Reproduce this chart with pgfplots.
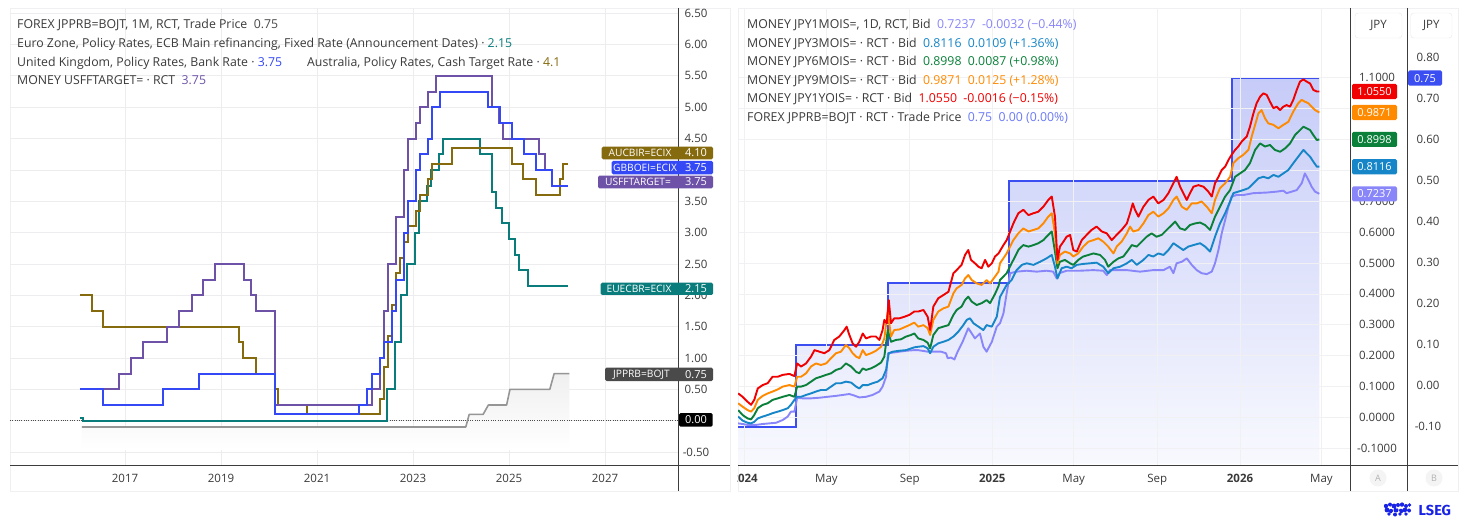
\documentclass[border=0pt]{standalone}
\usepackage{pgfplots}
\pgfplotsset{compat=1.18}
\usepackage{fontspec}
\setmainfont{Open Sans}
\newfontfamily\lsegfont{Fira Sans}
\definecolor{au}{RGB}{134,106,14}
\definecolor{uk}{RGB}{52,72,245}
\definecolor{us}{RGB}{110,82,168}
\definecolor{eu}{RGB}{10,124,124}
\definecolor{jpl}{RGB}{150,150,150}
\definecolor{jpbox}{RGB}{74,74,74}
\definecolor{txt}{RGB}{58,58,58}
\definecolor{gridc}{RGB}{237,237,240}
\definecolor{axc}{RGB}{60,60,60}
\definecolor{panelc}{RGB}{240,240,242}
\definecolor{ry}{RGB}{240,0,0}
\definecolor{orr}{RGB}{255,138,0}
\definecolor{grn}{RGB}{10,128,58}
\definecolor{bl}{RGB}{22,134,200}
\definecolor{lv}{RGB}{137,134,250}
\definecolor{st}{RGB}{58,78,242}
\definecolor{fillT}{RGB}{198,204,248}
\definecolor{fillB}{RGB}{248,249,254}
\definecolor{lsegb}{RGB}{25,35,230}
\pgfplotsset{yrtrafo/.style={x coord trafo/.code={\pgfmathparse{##1-2024}}, x coord inv trafo/.code={\pgfmathparse{##1+2024}}}}
\newcommand{\tickfont}{\fontsize{11.5}{13}\selectfont}
\newcommand{\legfont}{\fontsize{12.3}{14}\selectfont}
\newcommand{\boxfont}{\fontsize{11}{13}\selectfont}
\newcommand{\namefont}{\fontsize{10.2}{12}\selectfont}
\begin{document}
\begin{tikzpicture}[x=1pt,y=1pt]
\useasboundingbox (0,0) rectangle (1467,-529);
\fill[white] (0,0) rectangle (1467,-529);
\draw[panelc] (10,-8) rectangle (730,-491);
\draw[panelc] (738,-8) rectangle (1458,-491);
% ================= LEFT PANEL =================
\begin{axis}[
  at={(10pt,-465pt)}, anchor=south west, scale only axis,
  width=668pt, height=457pt,
  xmin=2014.604, xmax=2028.521, ymin=-0.7065, ymax=6.5821,
  axis line style={draw=none}, tick style={draw=none},
  xtick={2017,2019,2021,2023,2025,2027},
  xticklabels={2017,2019,2021,2023,2025,2027},
  ytick={-0.5,0,0.5,1,1.5,2,2.5,3,3.5,4,4.5,5,5.5,6,6.5},
  yticklabels={-0.50,{},0.50,1.00,1.50,2.00,2.50,3.00,3.50,{},4.50,5.00,5.50,6.00,6.50},
  yticklabel pos=right,
  xmajorgrids, ymajorgrids, grid style={gridc, line width=0.8pt},
  ticklabel style={font=\tickfont, text=txt},
  xticklabel style={anchor=base, inner sep=0pt, yshift=-17pt},
  yticklabel style={anchor=center, inner sep=0pt, xshift=18pt},
]
\addplot[draw=none, top color=gray!12, bottom color=white] coordinates {(2016.10,-0.47) (2016.10,-0.10) (2024.10,-0.10) (2024.17,0.10) (2024.46,0.10) (2024.57,0.25) (2024.95,0.25) (2025.02,0.50) (2025.85,0.50) (2025.94,0.75) (2026.26,0.75) (2026.26,-0.47)} -- cycle;
\addplot[black!70, dash pattern=on 1pt off 1.3pt, line width=0.8pt] coordinates {(2014.604,0) (2028.521,0)};
\addplot[jpl, line width=1.6pt, line join=round] coordinates {(2016.10,-0.10) (2024.10,-0.10) (2024.17,0.10) (2024.46,0.10) (2024.57,0.25) (2024.95,0.25) (2025.02,0.50) (2025.85,0.50) (2025.94,0.75) (2026.26,0.75)};
\addplot[const plot, eu, line width=2pt] coordinates {(2016.06,0.05) (2016.13,0.00) (2022.46,0.50) (2022.63,1.25) (2022.76,2.00) (2022.88,2.50) (2023.04,3.00) (2023.13,3.50) (2023.29,3.75) (2023.38,4.00) (2023.54,4.25) (2023.63,4.50) (2024.40,4.25) (2024.64,3.65) (2024.72,3.40) (2024.86,3.15) (2024.99,2.90) (2025.13,2.65) (2025.21,2.40) (2025.39,2.15) (2026.22,2.15)};
\addplot[const plot, au, line width=2pt] coordinates {(2016.06,2.00) (2016.31,1.75) (2016.54,1.50) (2019.38,1.25) (2019.46,1.00) (2019.73,0.75) (2020.13,0.50) (2020.19,0.25) (2020.79,0.10) (2022.31,0.35) (2022.40,0.85) (2022.48,1.35) (2022.56,1.85) (2022.65,2.35) (2022.73,2.60) (2022.81,2.85) (2022.90,3.10) (2023.06,3.35) (2023.15,3.60) (2023.31,3.85) (2023.40,4.10) (2023.81,4.35) (2025.06,4.10) (2025.30,3.85) (2025.56,3.60) (2026.06,3.85) (2026.13,4.10) (2026.22,4.10)};
\addplot[const plot, us, line width=2pt] coordinates {(2016.06,0.50) (2016.88,0.75) (2017.13,1.00) (2017.37,1.25) (2017.88,1.50) (2018.13,1.75) (2018.39,2.00) (2018.63,2.25) (2018.88,2.50) (2019.47,2.25) (2019.63,2.00) (2019.73,1.75) (2020.13,0.25) (2022.14,0.50) (2022.31,1.00) (2022.40,1.75) (2022.48,2.50) (2022.65,3.25) (2022.81,4.00) (2022.90,4.50) (2023.06,4.75) (2023.15,5.00) (2023.31,5.25) (2023.48,5.50) (2024.65,5.00) (2024.80,4.75) (2024.88,4.50) (2025.63,4.25) (2025.74,4.00) (2025.90,3.75) (2026.22,3.75)};
\addplot[const plot, uk, line width=2pt] coordinates {(2016.06,0.50) (2016.54,0.25) (2017.80,0.50) (2018.55,0.75) (2020.13,0.10) (2021.88,0.25) (2022.05,0.50) (2022.14,0.75) (2022.31,1.00) (2022.40,1.25) (2022.56,1.75) (2022.65,2.25) (2022.81,3.00) (2022.90,3.50) (2023.06,4.00) (2023.15,4.25) (2023.31,4.50) (2023.40,5.00) (2023.56,5.25) (2024.57,5.00) (2024.81,4.75) (2025.06,4.50) (2025.32,4.25) (2025.56,4.00) (2025.90,3.75) (2026.22,3.75)};
\end{axis}
\draw[axc, line width=0.9pt] (678,-8) -- (678,-491);
\draw[axc, line width=0.9pt] (10,-465) -- (730,-465);
% left legend
\begin{scope}[every node/.style={anchor=base west, inner sep=0pt, font=\legfont, text=txt}]
\node at (17,-29) {FOREX JPPRB=BOJT, 1M, RCT, Trade Price\ \ \textcolor{jpbox}{0.75}};
\node at (17,-47.5) {Euro Zone, Policy Rates, ECB Main refinancing, Fixed Rate (Announcement Dates) · \textcolor{eu}{2.15}};
\node at (17,-66.5) {United Kingdom, Policy Rates, Bank Rate · \textcolor{uk}{3.75}};
\node at (307,-66.5) {Australia, Policy Rates, Cash Target Rate · \textcolor{au}{4.1}};
\node at (17,-85) {MONEY USFFTARGET= · RCT\ \ \textcolor{us}{3.75}};
\end{scope}
% left value boxes
\begin{scope}[every node/.style={inner sep=0pt, text=white, font=\boxfont}]
\fill[au, rounded corners=1.5pt] (601.7,-146.7) rectangle (713,-159.3);
\node[font=\namefont] at (640,-153) {AUCBIR=ECIX}; \node at (696,-153) {4.10};
\fill[uk, rounded corners=1.5pt] (611.7,-161) rectangle (713,-174.3);
\node[font=\namefont] at (645,-167.7) {GBBOEI=ECIX}; \node at (696,-167.7) {3.75};
\fill[us, rounded corners=1.5pt] (598,-175.7) rectangle (713,-188.3);
\node[font=\namefont] at (638,-182) {USFFTARGET=}; \node at (696,-182) {3.75};
\fill[eu, rounded corners=1.5pt] (600.7,-282.7) rectangle (713,-295);
\node[font=\namefont] at (639,-288.8) {EUECBR=ECIX}; \node at (696,-288.8) {2.15};
\fill[jpbox, rounded corners=1.5pt] (605,-367.7) rectangle (713,-381);
\node[font=\namefont] at (641.5,-374.3) {JPPRB=BOJT}; \node at (696,-374.3) {0.75};
\fill[black, rounded corners=1.5pt] (679,-413) rectangle (712.7,-426.7);
\node at (696,-420) {0.00};
\end{scope}
% ================= RIGHT PANEL =================
\begin{axis}[
  yrtrafo,
  at={(738pt,-465pt)}, anchor=south west, scale only axis,
  width=612pt, height=457pt,
  xmin=2023.9734, xmax=2026.4441, ymin=-0.19366, ymax=0.92098,
  axis line style={draw=none}, tick style={draw=none},
  xtick=\empty,
  ytick={-0.1,0,0.1,0.2,0.3,0.4,0.5,0.6,0.7,0.8},
  yticklabels={-0.10,0.00,0.10,0.20,0.30,0.40,0.50,0.60,0.70,0.80},
  yticklabel pos=right,
  ticklabel style={font=\tickfont, text=txt},
  yticklabel style={anchor=center, inner sep=0pt, xshift=78pt},
]
\addplot[draw=none, top color=fillT, bottom color=fillB] coordinates {(2023.9734,-0.19) (2023.9734,-0.10) (2024.2075,-0.10) (2024.2075,0.10) (2024.580,0.10) (2024.580,0.25) (2025.067,0.25) (2025.067,0.50) (2025.969,0.50) (2025.969,0.75) (2026.320,0.75) (2026.320,-0.19)} -- cycle;
\addplot[st, line width=2pt] coordinates {(2023.9734,-0.10) (2024.2075,-0.10) (2024.2075,0.10) (2024.580,0.10) (2024.580,0.25) (2025.067,0.25) (2025.067,0.50) (2025.969,0.50) (2025.969,0.75) (2026.320,0.75)};
\end{axis}
\begin{axis}[
  yrtrafo,
  at={(738pt,-465pt)}, anchor=south west, scale only axis,
  width=612pt, height=457pt,
  xmin=2023.9734, xmax=2026.4441, ymin=-0.15372, ymax=1.32524,
  axis line style={draw=none}, tick style={draw=none},
  xtick={2024,2024.3306,2024.6667,2025,2025.3288,2025.6658,2026,2026.3288},
  xticklabels={\textbf{2024},May,Sep,\textbf{2025},May,Sep,\textbf{2026},May},
  ytick={-0.1,0,0.1,0.2,0.3,0.4,0.5,0.6,0.7,0.8,0.9,1.0,1.1},
  yticklabels={-0.1000,0.0000,0.1000,0.2000,0.3000,0.4000,0.5000,0.6000,0.7000,{},{},{},1.1000},
  yticklabel pos=right,
  xmajorgrids, ymajorgrids, grid style={gridc!80, line width=0.8pt},
  ticklabel style={font=\tickfont, text=txt},
  xticklabel style={anchor=base, inner sep=0pt, yshift=-17pt},
  yticklabel style={anchor=center, inner sep=0pt, xshift=27pt},
  every axis plot/.append style={line width=1.9pt, line join=round},
]
% 1M
\addplot[lv] coordinates {(2023.974,-0.019) (2023.992,-0.021) (2024.012,-0.024) (2024.046,-0.024) (2024.073,-0.021) (2024.100,-0.019) (2024.127,-0.017) (2024.154,-0.008) (2024.174,0.003) (2024.187,0.019) (2024.201,0.019) (2024.212,0.064) (2024.234,0.062) (2024.268,0.062) (2024.302,0.064) (2024.335,0.067) (2024.369,0.070) (2024.396,0.073) (2024.423,0.076) (2024.443,0.071) (2024.463,0.065) (2024.490,0.067) (2024.517,0.073) (2024.544,0.084) (2024.557,0.100) (2024.571,0.132) (2024.579,0.208) (2024.598,0.210) (2024.625,0.213) (2024.652,0.216) (2024.685,0.218) (2024.701,0.218) (2024.739,0.213) (2024.766,0.213) (2024.793,0.213) (2024.813,0.208) (2024.820,0.192) (2024.833,0.194) (2024.847,0.188) (2024.860,0.213) (2024.880,0.245) (2024.903,0.289) (2024.917,0.272) (2024.930,0.256) (2024.950,0.272) (2024.964,0.229) (2024.977,0.213) (2024.998,0.245) (2025.018,0.294) (2025.031,0.305) (2025.045,0.337) (2025.058,0.402) (2025.072,0.467) (2025.098,0.472) (2025.139,0.475) (2025.179,0.472) (2025.219,0.475) (2025.246,0.472) (2025.260,0.450) (2025.271,0.467) (2025.300,0.475) (2025.354,0.475) (2025.408,0.477) (2025.448,0.475) (2025.462,0.461) (2025.475,0.477) (2025.543,0.477) (2025.596,0.472) (2025.650,0.477) (2025.691,0.477) (2025.717,0.488) (2025.731,0.467) (2025.744,0.499) (2025.765,0.504) (2025.785,0.515) (2025.805,0.494) (2025.825,0.477) (2025.845,0.467) (2025.866,0.464) (2025.886,0.472) (2025.899,0.499) (2025.913,0.542) (2025.926,0.596) (2025.940,0.639) (2025.953,0.682) (2025.966,0.715) (2025.986,0.720) (2026.013,0.720) (2026.054,0.726) (2026.108,0.728) (2026.148,0.731) (2026.175,0.734) (2026.188,0.726) (2026.209,0.731) (2026.229,0.736) (2026.249,0.758) (2026.262,0.790) (2026.276,0.769) (2026.289,0.747) (2026.303,0.731) (2026.320,0.724)};
% 3M
\addplot[bl] coordinates {(2023.974,0.003) (2023.992,-0.010) (2024.012,-0.017) (2024.026,-0.019) (2024.039,-0.014) (2024.053,-0.003) (2024.073,0.003) (2024.093,0.008) (2024.113,0.014) (2024.134,0.019) (2024.154,0.024) (2024.174,0.030) (2024.187,0.041) (2024.201,0.057) (2024.212,0.067) (2024.228,0.067) (2024.248,0.073) (2024.268,0.078) (2024.288,0.084) (2024.308,0.089) (2024.329,0.089) (2024.349,0.100) (2024.369,0.111) (2024.389,0.111) (2024.409,0.116) (2024.430,0.113) (2024.450,0.100) (2024.463,0.094) (2024.477,0.105) (2024.497,0.105) (2024.517,0.111) (2024.537,0.116) (2024.557,0.127) (2024.571,0.154) (2024.582,0.208) (2024.598,0.213) (2024.625,0.216) (2024.652,0.218) (2024.685,0.227) (2024.701,0.229) (2024.722,0.231) (2024.739,0.224) (2024.749,0.208) (2024.762,0.229) (2024.782,0.240) (2024.802,0.245) (2024.823,0.251) (2024.843,0.262) (2024.863,0.278) (2024.883,0.299) (2024.897,0.316) (2024.910,0.321) (2024.924,0.305) (2024.944,0.294) (2024.964,0.283) (2024.977,0.299) (2024.998,0.294) (2025.018,0.326) (2025.031,0.390) (2025.058,0.429) (2025.078,0.445) (2025.098,0.477) (2025.119,0.494) (2025.139,0.499) (2025.166,0.494) (2025.193,0.504) (2025.219,0.515) (2025.240,0.526) (2025.253,0.488) (2025.263,0.450) (2025.280,0.483) (2025.300,0.488) (2025.320,0.483) (2025.341,0.494) (2025.367,0.497) (2025.394,0.499) (2025.421,0.501) (2025.448,0.488) (2025.468,0.467) (2025.489,0.483) (2025.516,0.488) (2025.543,0.499) (2025.563,0.510) (2025.583,0.494) (2025.610,0.510) (2025.630,0.526) (2025.650,0.521) (2025.670,0.531) (2025.691,0.526) (2025.711,0.542) (2025.731,0.564) (2025.751,0.553) (2025.771,0.542) (2025.791,0.553) (2025.812,0.558) (2025.839,0.564) (2025.859,0.553) (2025.879,0.537) (2025.899,0.585) (2025.919,0.628) (2025.940,0.661) (2025.960,0.699) (2025.973,0.726) (2025.993,0.731) (2026.013,0.736) (2026.034,0.742) (2026.054,0.758) (2026.074,0.774) (2026.094,0.779) (2026.114,0.774) (2026.135,0.785) (2026.155,0.779) (2026.175,0.790) (2026.195,0.801) (2026.215,0.823) (2026.235,0.844) (2026.256,0.866) (2026.269,0.855) (2026.283,0.844) (2026.296,0.828) (2026.310,0.812) (2026.320,0.812)};
% 6M
\addplot[grn] coordinates {(2023.974,0.024) (2023.992,0.008) (2024.012,-0.003) (2024.026,-0.006) (2024.039,0.008) (2024.053,0.030) (2024.073,0.041) (2024.093,0.046) (2024.113,0.057) (2024.134,0.062) (2024.154,0.067) (2024.181,0.073) (2024.201,0.067) (2024.212,0.100) (2024.228,0.100) (2024.248,0.105) (2024.268,0.116) (2024.288,0.127) (2024.308,0.132) (2024.329,0.138) (2024.349,0.143) (2024.369,0.154) (2024.389,0.159) (2024.409,0.175) (2024.430,0.165) (2024.450,0.148) (2024.463,0.143) (2024.477,0.159) (2024.490,0.154) (2024.510,0.159) (2024.530,0.167) (2024.551,0.178) (2024.564,0.197) (2024.578,0.283) (2024.591,0.245) (2024.611,0.251) (2024.631,0.253) (2024.652,0.262) (2024.672,0.267) (2024.685,0.272) (2024.701,0.256) (2024.722,0.251) (2024.739,0.242) (2024.749,0.224) (2024.762,0.267) (2024.782,0.289) (2024.802,0.294) (2024.823,0.299) (2024.843,0.332) (2024.856,0.348) (2024.876,0.359) (2024.890,0.380) (2024.903,0.391) (2024.917,0.375) (2024.937,0.364) (2024.957,0.370) (2024.977,0.380) (2024.991,0.370) (2025.011,0.400) (2025.025,0.425) (2025.031,0.445) (2025.058,0.467) (2025.085,0.510) (2025.105,0.542) (2025.125,0.558) (2025.146,0.553) (2025.166,0.558) (2025.186,0.564) (2025.206,0.574) (2025.226,0.591) (2025.240,0.602) (2025.253,0.537) (2025.263,0.483) (2025.273,0.504) (2025.293,0.510) (2025.314,0.499) (2025.327,0.494) (2025.347,0.510) (2025.367,0.521) (2025.388,0.526) (2025.408,0.531) (2025.435,0.526) (2025.455,0.510) (2025.468,0.488) (2025.489,0.504) (2025.509,0.515) (2025.529,0.521) (2025.549,0.542) (2025.563,0.558) (2025.583,0.553) (2025.603,0.569) (2025.623,0.585) (2025.643,0.596) (2025.663,0.585) (2025.684,0.591) (2025.704,0.607) (2025.724,0.623) (2025.738,0.634) (2025.758,0.612) (2025.778,0.607) (2025.798,0.623) (2025.818,0.628) (2025.839,0.631) (2025.859,0.623) (2025.879,0.607) (2025.899,0.650) (2025.919,0.682) (2025.940,0.715) (2025.960,0.736) (2025.980,0.779) (2026.000,0.790) (2026.020,0.801) (2026.040,0.823) (2026.061,0.866) (2026.081,0.887) (2026.101,0.877) (2026.121,0.882) (2026.141,0.866) (2026.162,0.860) (2026.182,0.871) (2026.202,0.887) (2026.222,0.914) (2026.242,0.930) (2026.256,0.941) (2026.269,0.936) (2026.283,0.930) (2026.296,0.914) (2026.310,0.898) (2026.320,0.900)};
% 9M
\addplot[orr] coordinates {(2023.974,0.046) (2023.992,0.035) (2024.012,0.024) (2024.026,0.019) (2024.039,0.030) (2024.053,0.057) (2024.073,0.070) (2024.093,0.078) (2024.113,0.084) (2024.134,0.091) (2024.154,0.100) (2024.181,0.105) (2024.201,0.100) (2024.212,0.132) (2024.228,0.132) (2024.248,0.143) (2024.268,0.165) (2024.288,0.175) (2024.308,0.170) (2024.329,0.175) (2024.349,0.192) (2024.369,0.208) (2024.389,0.213) (2024.409,0.235) (2024.423,0.224) (2024.436,0.208) (2024.450,0.197) (2024.463,0.192) (2024.477,0.218) (2024.490,0.202) (2024.510,0.208) (2024.530,0.216) (2024.551,0.229) (2024.564,0.256) (2024.578,0.343) (2024.591,0.262) (2024.604,0.283) (2024.625,0.285) (2024.645,0.292) (2024.665,0.299) (2024.685,0.307) (2024.701,0.294) (2024.722,0.299) (2024.739,0.289) (2024.749,0.267) (2024.762,0.316) (2024.782,0.343) (2024.802,0.353) (2024.823,0.359) (2024.843,0.402) (2024.856,0.418) (2024.876,0.429) (2024.890,0.450) (2024.903,0.461) (2024.917,0.445) (2024.937,0.434) (2024.957,0.429) (2024.977,0.445) (2024.991,0.434) (2025.011,0.456) (2025.025,0.472) (2025.031,0.499) (2025.058,0.531) (2025.085,0.574) (2025.105,0.596) (2025.125,0.612) (2025.146,0.602) (2025.166,0.607) (2025.186,0.612) (2025.206,0.628) (2025.226,0.650) (2025.240,0.661) (2025.253,0.596) (2025.263,0.499) (2025.273,0.526) (2025.293,0.537) (2025.314,0.531) (2025.327,0.521) (2025.347,0.531) (2025.367,0.553) (2025.388,0.569) (2025.408,0.574) (2025.428,0.580) (2025.448,0.569) (2025.468,0.553) (2025.489,0.531) (2025.502,0.553) (2025.522,0.569) (2025.543,0.596) (2025.556,0.618) (2025.569,0.602) (2025.590,0.607) (2025.610,0.628) (2025.630,0.655) (2025.650,0.666) (2025.670,0.650) (2025.691,0.661) (2025.711,0.677) (2025.731,0.704) (2025.744,0.715) (2025.765,0.682) (2025.785,0.672) (2025.805,0.693) (2025.825,0.693) (2025.845,0.699) (2025.866,0.682) (2025.886,0.661) (2025.899,0.704) (2025.919,0.742) (2025.940,0.758) (2025.960,0.779) (2025.973,0.823) (2025.993,0.839) (2026.013,0.850) (2026.034,0.866) (2026.047,0.909) (2026.061,0.947) (2026.074,0.984) (2026.087,0.995) (2026.101,0.968) (2026.114,0.952) (2026.135,0.947) (2026.155,0.936) (2026.175,0.947) (2026.195,0.957) (2026.215,0.990) (2026.235,1.017) (2026.249,1.028) (2026.262,1.022) (2026.276,1.017) (2026.289,1.006) (2026.303,0.995) (2026.320,0.987)};
% 1Y
\addplot[ry] coordinates {(2023.974,0.078) (2023.992,0.067) (2024.012,0.051) (2024.026,0.041) (2024.039,0.057) (2024.053,0.094) (2024.073,0.105) (2024.093,0.111) (2024.113,0.132) (2024.134,0.132) (2024.154,0.138) (2024.181,0.141) (2024.201,0.134) (2024.212,0.175) (2024.228,0.165) (2024.248,0.175) (2024.268,0.197) (2024.282,0.218) (2024.302,0.213) (2024.322,0.208) (2024.342,0.218) (2024.362,0.251) (2024.382,0.262) (2024.403,0.283) (2024.412,0.294) (2024.423,0.267) (2024.436,0.240) (2024.450,0.229) (2024.463,0.245) (2024.477,0.272) (2024.490,0.256) (2024.510,0.262) (2024.530,0.262) (2024.544,0.251) (2024.557,0.283) (2024.564,0.316) (2024.574,0.305) (2024.582,0.380) (2024.591,0.305) (2024.604,0.321) (2024.625,0.321) (2024.645,0.326) (2024.665,0.332) (2024.685,0.343) (2024.701,0.343) (2024.722,0.348) (2024.739,0.326) (2024.749,0.283) (2024.762,0.359) (2024.782,0.386) (2024.802,0.396) (2024.823,0.407) (2024.843,0.467) (2024.856,0.477) (2024.876,0.494) (2024.890,0.526) (2024.903,0.542) (2024.914,0.510) (2024.930,0.499) (2024.944,0.488) (2024.957,0.483) (2024.971,0.510) (2024.984,0.488) (2024.998,0.499) (2025.011,0.521) (2025.025,0.531) (2025.045,0.558) (2025.058,0.574) (2025.072,0.602) (2025.085,0.628) (2025.105,0.661) (2025.125,0.672) (2025.146,0.655) (2025.166,0.661) (2025.186,0.666) (2025.206,0.682) (2025.226,0.704) (2025.240,0.715) (2025.253,0.650) (2025.263,0.510) (2025.273,0.553) (2025.287,0.569) (2025.300,0.585) (2025.314,0.591) (2025.327,0.542) (2025.341,0.537) (2025.361,0.574) (2025.381,0.591) (2025.401,0.607) (2025.421,0.618) (2025.442,0.602) (2025.462,0.596) (2025.482,0.574) (2025.502,0.591) (2025.522,0.607) (2025.543,0.628) (2025.556,0.661) (2025.567,0.693) (2025.576,0.672) (2025.590,0.650) (2025.610,0.682) (2025.630,0.704) (2025.650,0.715) (2025.670,0.693) (2025.691,0.704) (2025.711,0.726) (2025.731,0.758) (2025.744,0.779) (2025.758,0.747) (2025.771,0.726) (2025.785,0.704) (2025.798,0.726) (2025.812,0.747) (2025.832,0.752) (2025.852,0.747) (2025.872,0.731) (2025.886,0.715) (2025.899,0.758) (2025.913,0.779) (2025.926,0.801) (2025.940,0.812) (2025.953,0.833) (2025.966,0.850) (2025.980,0.866) (2025.993,0.877) (2026.007,0.893) (2026.027,0.909) (2026.040,0.941) (2026.054,0.984) (2026.067,1.017) (2026.081,1.038) (2026.094,1.049) (2026.108,1.044) (2026.121,1.022) (2026.135,1.001) (2026.148,1.006) (2026.162,0.995) (2026.175,1.006) (2026.188,1.011) (2026.202,1.006) (2026.215,1.028) (2026.229,1.060) (2026.242,1.087) (2026.256,1.094) (2026.269,1.087) (2026.283,1.081) (2026.296,1.060) (2026.310,1.055) (2026.320,1.055)};
\end{axis}
\fill[white] (730.6,-466) rectangle (737.4,-490.5);
\draw[axc, line width=0.9pt] (1350,-8) -- (1350,-491);
\draw[axc, line width=0.9pt] (1407,-8) -- (1407,-491);
\draw[axc, line width=0.9pt] (738,-465) -- (1458,-465);
% JPY headers
\draw[gray!18, fill=white, rounded corners=3pt] (1355,-13) rectangle (1402,-38);
\node[inner sep=0pt, text=txt, font=\tickfont] at (1378.5,-25.5) {JPY};
\draw[gray!18, fill=white, rounded corners=3pt] (1410.7,-13) rectangle (1452,-38);
\node[inner sep=0pt, text=txt, font=\tickfont] at (1431.3,-25.5) {JPY};
% right value boxes
\begin{scope}[every node/.style={inner sep=0pt, text=white, font=\boxfont}]
\fill[ry, rounded corners=1.5pt] (1352,-83.9) rectangle (1397,-99.1); \node at (1374.5,-91.5) {1.0550};
\fill[orr, rounded corners=1.5pt] (1352,-104.9) rectangle (1397,-120.1); \node at (1374.5,-112.5) {0.9871};
\fill[grn, rounded corners=1.5pt] (1352,-131.8) rectangle (1397,-147.0); \node at (1374.5,-139.4) {0.8998};
\fill[bl, rounded corners=1.5pt] (1352,-159.1) rectangle (1397,-174.3); \node at (1374.5,-166.7) {0.8116};
\fill[lv, rounded corners=1.5pt] (1352,-186.3) rectangle (1397,-201.5); \node at (1374.5,-193.9) {0.7237};
\fill[st, rounded corners=1.5pt] (1408,-70.5) rectangle (1442,-85.7); \node at (1425,-78.1) {0.75};
\end{scope}
% bottom circles
\fill[gray!9] (1378,-478) circle (8.5);
\node[inner sep=0pt, text=gray!60, font=\fontsize{9}{10}\selectfont] at (1378,-478) {A};
\fill[gray!9] (1434,-478) circle (8.5);
\node[inner sep=0pt, text=gray!60, font=\fontsize{9}{10}\selectfont] at (1434,-478) {B};
% right legend
\begin{scope}[every node/.style={anchor=base west, inner sep=0pt, font=\legfont, text=txt}]
\node at (747,-29) {MONEY JPY1MOIS=, 1D, RCT, Bid\ \ \textcolor{lv}{0.7237\ \ -0.0032 (−0.44\%)}};
\node at (747,-47.5) {MONEY JPY3MOIS= · RCT · Bid\ \ \textcolor{bl}{0.8116\ \ 0.0109 (+1.36\%)}};
\node at (747,-66) {MONEY JPY6MOIS= · RCT · Bid\ \ \textcolor{grn}{0.8998\ \ 0.0087 (+0.98\%)}};
\node at (747,-84.5) {MONEY JPY9MOIS= · RCT · Bid\ \ \textcolor{orr}{0.9871\ \ 0.0125 (+1.28\%)}};
\node at (747,-103) {MONEY JPY1YOIS= · RCT · Bid\ \ \textcolor{ry}{1.0550\ \ -0.0016 (−0.15\%)}};
\node at (747,-121.5) {FOREX JPPRB=BOJT · RCT · Trade Price\ \ \textcolor{st!75}{0.75\ \ 0.00 (0.00\%)}};
\end{scope}
% LSEG logo
\foreach \px/\py/\r in {1386/506/2.2, 1390/504.6/2.0, 1394/506/2.4, 1398/505/2.0, 1402/504.6/2.2, 1406/506/2.0, 1409.5/505/1.8, 1387/510/2.4, 1391/511/2.2, 1396/510/2.5, 1401/511/2.3, 1405/510/2.4, 1409/510.5/2.0, 1389/514/1.8, 1395/514.5/2.0, 1400/514/1.8, 1406/514/1.8}
  \fill[lsegb] (\px,-\py) circle (\r);
\foreach \px/\py in {1389/507, 1397/508, 1403/507.5, 1393/512.5, 1399/512, 1407/512}
  \fill[white] (\px,-\py) circle (0.8);
\node[anchor=base west, inner sep=0pt, text=lsegb, font=\lsegfont\bfseries\fontsize{14.5}{16}\selectfont] at (1418.5,-515.5) {LSEG};
\end{tikzpicture}
\end{document}
